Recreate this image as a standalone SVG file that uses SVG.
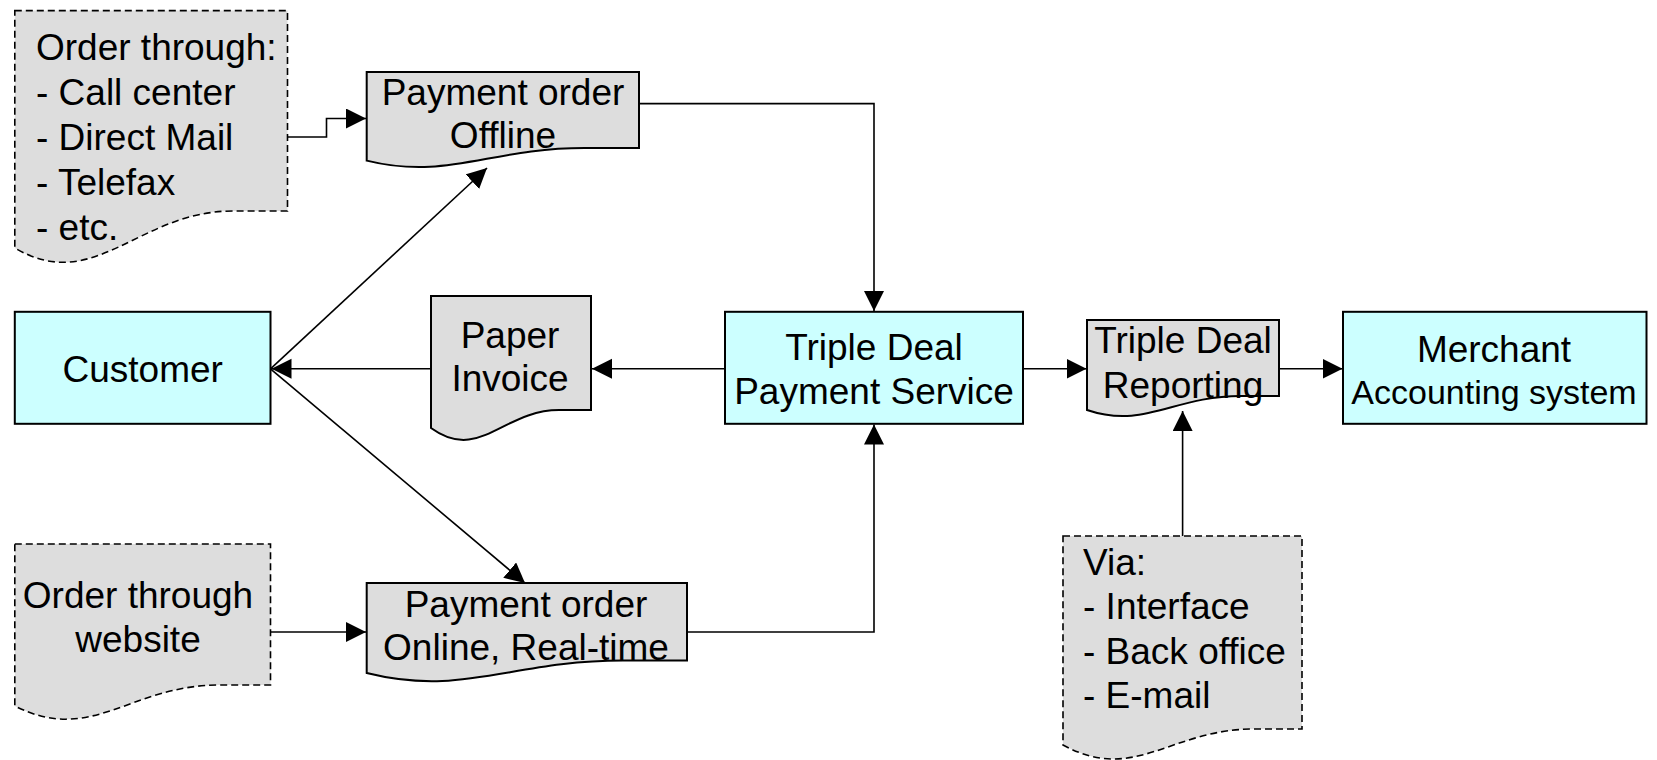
<svg xmlns="http://www.w3.org/2000/svg" width="1657" height="760" viewBox="0 0 1657 760">
<defs>
<style>
.box{fill:#CCFFFF;stroke:#000;stroke-width:2}
.doc{fill:#DDDDDD;stroke:#000;stroke-width:2}
.dash{fill:#DDDDDD;stroke:#000;stroke-width:1.6;stroke-dasharray:7,4}
.t{font-family:"Liberation Sans",Arial,sans-serif;font-size:37px;fill:#000}
.c{text-anchor:middle}
.con{fill:none;stroke:#000;stroke-width:1.6}
</style>
<marker id="arr" markerUnits="userSpaceOnUse" markerWidth="21" markerHeight="21" refX="20" refY="10" orient="auto">
<path d="M0,0 L20,10 L0,20 Z" fill="#000"/>
</marker>
</defs>
<rect width="1657" height="760" fill="#fff"/>
<g id="connectors">
<path class="con" d="M287.5,137 H326.5 V118.5 H366" marker-end="url(#arr)"/>
<path class="con" d="M639,103.6 H874 V311" marker-end="url(#arr)"/>
<path class="con" d="M431,368.8 H271.5" marker-end="url(#arr)"/>
<path class="con" d="M725,368.8 H592" marker-end="url(#arr)"/>
<path class="con" d="M270.5,368.8 L487,168" marker-end="url(#arr)"/>
<path class="con" d="M270.5,368.8 L525,583" marker-end="url(#arr)"/>
<path class="con" d="M270.5,632 H366" marker-end="url(#arr)"/>
<path class="con" d="M687,632 H874 V424.5" marker-end="url(#arr)"/>
<path class="con" d="M1023,368.8 H1086.5" marker-end="url(#arr)"/>
<path class="con" d="M1279,368.8 H1342.5" marker-end="url(#arr)"/>
<path class="con" d="M1182.6,536 V411" marker-end="url(#arr)"/>
</g>
<g id="order-through">
<path class="dash" d="M14.8,10.6 H287.5 V211 H233 C138,211 95,295 14.8,248 Z"/>
<text class="t" x="36" y="60">Order through:</text>
<text class="t" x="36" y="105">- Call center</text>
<text class="t" x="36" y="150">- Direct Mail</text>
<text class="t" x="36" y="195">- Telefax</text>
<text class="t" x="36" y="240">- etc.</text>
</g>
<g id="payment-offline">
<path class="doc" d="M366.7,71.9 H639 V148 H584.5 C489,148 448,180.6 366.7,160.6 Z"/>
<text class="t c" x="503" y="105">Payment order</text>
<text class="t c" x="503" y="148">Offline</text>
</g>
<g id="customer">
<rect class="box" x="14.8" y="311.8" width="255.7" height="112"/>
<text class="t c" x="142.7" y="382">Customer</text>
</g>
<g id="paper-invoice">
<path class="doc" d="M431,296 H591 V410 H559 C503,410 479,463 431,428 Z"/>
<text class="t c" x="510" y="348">Paper</text>
<text class="t c" x="510" y="391">Invoice</text>
</g>
<g id="payment-service">
<rect class="box" x="725" y="311.8" width="298" height="112"/>
<text class="t c" x="874" y="360">Triple Deal</text>
<text class="t c" x="874" y="404">Payment Service</text>
</g>
<g id="reporting">
<path class="doc" d="M1087,320 H1279 V396 H1240.6 C1173.4,396 1144.6,429.5 1087,410 Z"/>
<text class="t c" x="1183" y="353">Triple Deal</text>
<text class="t c" x="1183" y="398">Reporting</text>
</g>
<g id="merchant">
<rect class="box" x="1343" y="311.8" width="303.5" height="112"/>
<text class="t c" x="1494" y="362">Merchant</text>
<text class="t c" x="1494" y="404" style="font-size:34px">Accounting system</text>
</g>
<g id="payment-online">
<path class="doc" d="M366.7,583 H687 V660.5 H623 C511,660.5 463,697 366.7,673 Z"/>
<text class="t c" x="526" y="617">Payment order</text>
<text class="t c" x="526" y="660">Online, Real-time</text>
</g>
<g id="order-website">
<path class="dash" d="M14.8,544 H270.5 V685 H219 C130,685 92,745 14.8,706 Z"/>
<text class="t c" x="138" y="608">Order through</text>
<text class="t c" x="138" y="652">website</text>
</g>
<g id="via">
<path class="dash" d="M1063,536 H1302 V729 H1254 C1170,729 1135,784 1063,745 Z"/>
<text class="t" x="1083" y="575">Via:</text>
<text class="t" x="1083" y="619">- Interface</text>
<text class="t" x="1083" y="664">- Back office</text>
<text class="t" x="1083" y="708">- E-mail</text>
</g>
</svg>
